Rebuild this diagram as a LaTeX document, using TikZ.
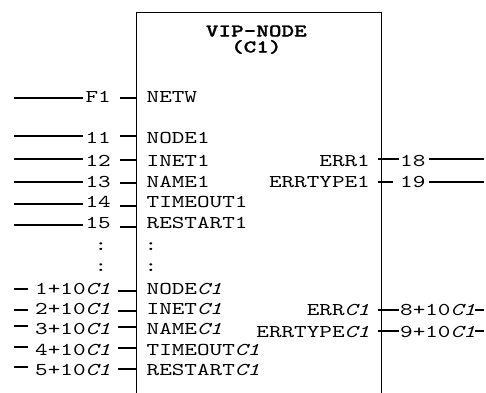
\documentclass[tikz,border=0pt]{standalone}
\usepackage{fontspec}
% typewriter face for the block, widened to a Courier-like pitch
\newfontfamily\blockfont{lmmono10-regular.otf}[
  FakeStretch=1.333,
  ItalicFont=lmmono10-italic.otf,
  BoldFont=lmmonolt10-bold.otf,
  BoldFeatures={FakeBold=1.2}]
\tikzset{
  txt/.style={font=\blockfont\fontsize{18}{20}\selectfont, inner sep=0pt, text=black},
  ttl/.style={txt, font=\blockfont\fontsize{18}{16}\selectfont\bfseries, align=center},
  frame/.style={line width=1pt, black},
  wire/.style={line width=2pt, black}
}
\begin{document}
\begin{tikzpicture}[x=1pt,y=-1pt]
\useasboundingbox (0,0) rectangle (486,392);

% function block outline (continues below the sheet)
\coordinate (bl) at (136.5,392.5);
\coordinate (tl) at (136.5,12.5);
\coordinate (tr) at (381.5,12.5);
\coordinate (br) at (381.5,392.5);
\draw[frame] (bl) -- (tl) -- (tr) -- (br);

% block type and instance name (base = baseline of the second line)
\node[ttl, anchor=base] (title) at (256.3,52.5) {VIP-NODE\\(C1)};

% inputs: pin / value / baseline / wire y / tap y / wire end / tap start
\foreach \lab/\num/\b/\ly/\dy/\le/\ds [count=\i] in {
  NETW/F1/102/98/98/83.3/120,
  NODE1/11/143/136/136/83.3/120,
  INET1/12/166/159/160/83.3/120,
  NAME1/13/187/182/183/83.3/120,
  TIMEOUT1/14/207.5/204/206/83.3/120,
  RESTART1/15/228.5/225/227/83.3/120,
  {NODE\textit{C1}}/{1+10\textit{C1}}/294/289/291/28.3/118.3,
  {INET\textit{C1}}/{2+10\textit{C1}}/314.5/310/311/28.3/118.3,
  {NAME\textit{C1}}/{3+10\textit{C1}}/334/326/327/28.3/118.3,
  {TIMEOUT\textit{C1}}/{4+10\textit{C1}}/355/347/348/28.3/118.3,
  {RESTART\textit{C1}}/{5+10\textit{C1}}/375/367/369/28.3/118.3}
{
  \node[txt, anchor=base west] (pin-\i) at (146.5,\b) {\lab};
  \node[txt, anchor=base east] (val-\i) at (111,\b) {\num};
  \coordinate (src-\i) at (14,\ly);
  \coordinate (srcend-\i) at (\le,\ly);
  \draw[wire] (src-\i) -- (srcend-\i);
  \coordinate (tap-\i) at (\ds,\dy);
  \draw[wire] (tap-\i) -- (tap-\i -| tl);
}

% ellipsis between the first and the last node group
\node[txt, anchor=base] (gap-v1) at (101,250) {:};
\node[txt, anchor=base] (gap-v2) at (101,271.7) {:};
\node[txt, anchor=base] (gap-p1) at (151,250) {:};
\node[txt, anchor=base] (gap-p2) at (151,271.7) {:};

% outputs: pin / value / baseline / tap y / wire y / tap end / wire start
\foreach \lab/\num/\b/\dy/\ly/\de/\ls [count=\i] in {
  ERR1/18/166/159/159/399.3/429.3,
  ERRTYPE1/19/187/182/182/393.3/429.3,
  {ERR\textit{C1}}/{8+10\textit{C1}}/315/310/310/399.3/475.3,
  {ERRTYPE\textit{C1}}/{9+10\textit{C1}}/337/331/331/399.3/475.3}
{
  \node[txt, anchor=base east] (opin-\i) at (370,\b) {\lab};
  \node[txt, anchor=base west] (oval-\i) at (400,\b) {\num};
  \coordinate (otap-\i) at (377.7,\dy);
  \coordinate (otapend-\i) at (\de,\dy);
  \draw[wire] (otap-\i) -- (otapend-\i);
  \coordinate (dst-\i) at (\ls,\ly);
  \coordinate (dstend-\i) at (484.3,\ly);
  \draw[wire] (dst-\i) -- (dstend-\i);
}
\end{tikzpicture}
\end{document}
